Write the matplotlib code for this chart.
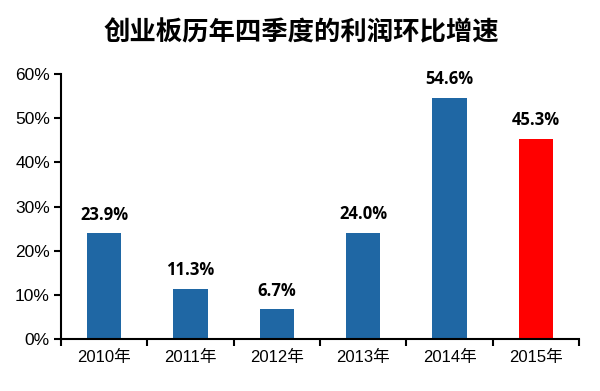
import matplotlib
matplotlib.use("Agg")
import matplotlib.pyplot as plt
import numpy as np
from matplotlib.ticker import FixedLocator, PercentFormatter

categories = ["2010年", "2011年", "2012年", "2013年", "2014年", "2015年"]
values = [23.9, 11.3, 6.7, 24.0, 54.6, 45.3]
colors = ["#1F67A4"] * 5 + ["#FF0000"]
title = "创业板历年四季度的利润环比增速"

plt.rcParams['font.family'] = ['Liberation Sans', 'Noto Sans CJK SC']

fig = plt.figure(figsize=(6, 3.91), dpi=100)
ax = fig.add_axes([0.1017, 0.133, 0.8633, 0.6777])

x = np.arange(len(categories))
ax.bar(x, values, width=0.4, color=colors, zorder=2)
for xi, v in zip(x, values):
    ax.text(xi, v + 2.2, f"{v:.1f}%", ha="center", va="bottom",
            fontsize=12, fontweight="bold", family=["Open Sans", "DejaVu Sans"])

ax.set_xlim(-0.5, len(categories) - 0.5)
ax.set_ylim(0, 60)
ax.set_yticks(np.arange(0, 61, 10))
ax.yaxis.set_major_formatter(PercentFormatter(decimals=0))
ax.xaxis.set_major_locator(FixedLocator(np.arange(-0.5, len(categories), 1)))
ax.xaxis.set_major_formatter(plt.NullFormatter())
ax.xaxis.set_minor_locator(FixedLocator(x))
ax.set_xticklabels(categories, minor=True)
ax.tick_params(axis="x", which="minor", length=0, labelsize=12, pad=8)
ax.tick_params(axis="x", which="major", length=5, width=1.5, direction="out")
ax.tick_params(axis="y", length=5, width=1.5, direction="out", labelsize=12.5, pad=3)
for s in ["top", "right"]:
    ax.spines[s].set_visible(False)
for s in ["left", "bottom"]:
    ax.spines[s].set_linewidth(1.5)

fig.text(0.503, 0.916, title, ha="center", va="center", fontsize=19,
         family=["Noto Sans CJK SC"], fontweight="bold")

fig.savefig("out.png", dpi=100)
